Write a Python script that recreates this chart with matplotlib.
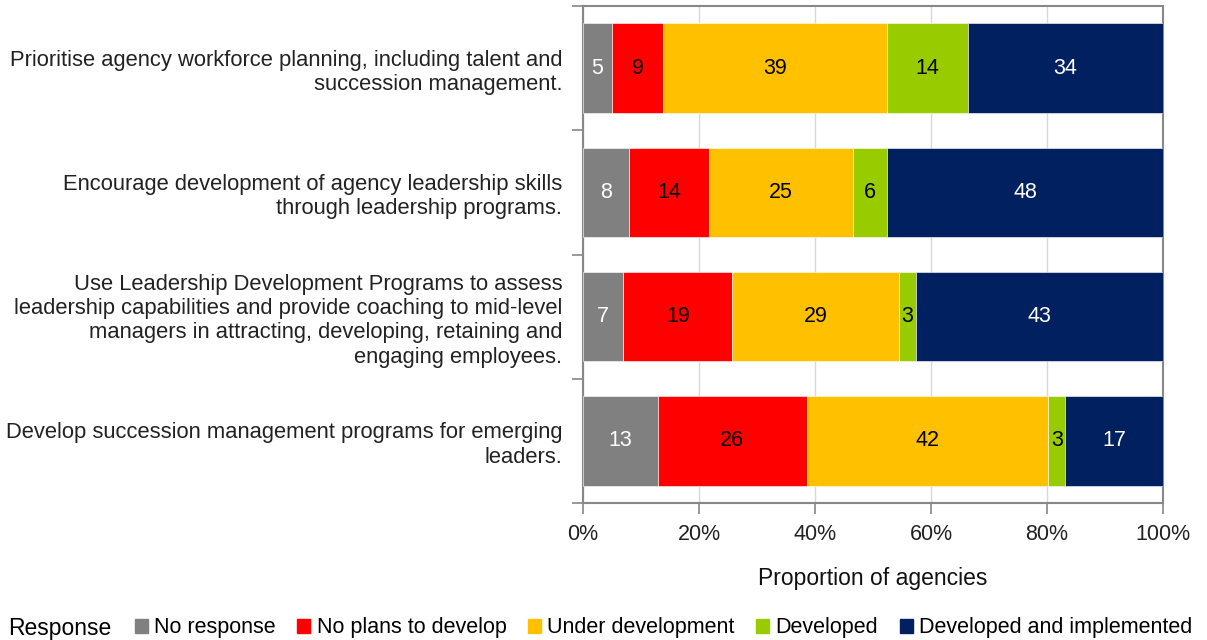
import numpy as np
import matplotlib.pyplot as plt
from matplotlib.patches import Patch

plt.rcParams['font.family'] = ['Liberation Sans', 'DejaVu Sans']

# Survey items, top to bottom
items = [
    "Prioritise agency workforce planning, including talent and\nsuccession management.",
    "Encourage development of agency leadership skills\nthrough leadership programs.",
    "Use Leadership Development Programs to assess\nleadership capabilities and provide coaching to mid-level\nmanagers in attracting, developing, retaining and\nengaging employees.",
    "Develop succession management programs for emerging\nleaders.",
]

responses = ["No response", "No plans to develop", "Under development",
             "Developed", "Developed and implemented"]

no_response = [5, 8, 7, 13]
no_plans = [9, 14, 19, 26]
under_dev = [39, 25, 29, 42]
developed = [14, 6, 3, 3]
implemented = [34, 48, 43, 17]

colors = ["#808080", "#FF0000", "#FFC000", "#99CC00", "#002060"]
label_colors = ["white", "black", "black", "black", "white"]

series = np.array([no_response, no_plans, under_dev, developed, implemented], dtype=float)
totals = series.sum(axis=0)
shares = series / totals * 100  # bars are scaled to 100%

fig = plt.figure(figsize=(12.07, 6.4), dpi=100)
ax = fig.add_axes([583 / 1207, 1 - 503 / 640, 580 / 1207, 497 / 640])

y = np.arange(len(items))
left = np.zeros(len(items))
for i, name in enumerate(responses):
    bars = ax.barh(y, shares[i], left=left, height=0.72, color=colors[i],
                   edgecolor="white", linewidth=0.4, label=name, zorder=3)
    for j, b in enumerate(bars):
        ax.text(left[j] + shares[i][j] / 2, y[j], f"{int(series[i][j])}",
                ha="center", va="center", fontsize=15.5, color=label_colors[i],
                zorder=4)
    left += shares[i]

ax.set_xlim(0, 100)
ax.set_ylim(len(items) - 0.5, -0.5)
ax.set_xticks(np.arange(0, 101, 20))
ax.set_xticklabels([f"{v}%" for v in range(0, 101, 20)], fontsize=15.5, color="#222222")
ax.tick_params(axis="x", length=8, width=1.2, color="#888888", pad=7)
ax.set_yticks(y)
ax.set_yticklabels(items, fontsize=15.8, color="#222222", linespacing=1.2)
ax.tick_params(axis="y", length=0, pad=15)
ax.set_yticks(np.arange(-0.5, len(items), 1), minor=True)
ax.tick_params(axis="y", which="minor", length=8, width=1.2, color="#888888")
ax.grid(axis="x", color="#d9d9d9", linewidth=1, zorder=0)
for s in ax.spines.values():
    s.set_color("#888888")
    s.set_linewidth(1.5)

ax.set_xlabel("Proportion of agencies", fontsize=16.5, labelpad=16, color="#111111")

fig.text(8 / 1207, 1 - 629 / 640, "Response", fontsize=16.5, va="center", ha="left")
handles = [Patch(color=c) for c in colors]
fig.legend(handles, responses, loc="center left", ncol=5, frameon=False,
           bbox_to_anchor=(126 / 1207, 1 - 628 / 640), fontsize=15.5,
           handlelength=0.6, handleheight=0.6, handletextpad=0.3,
           columnspacing=1.0, borderaxespad=0)

fig.savefig("out.png", dpi=100)
